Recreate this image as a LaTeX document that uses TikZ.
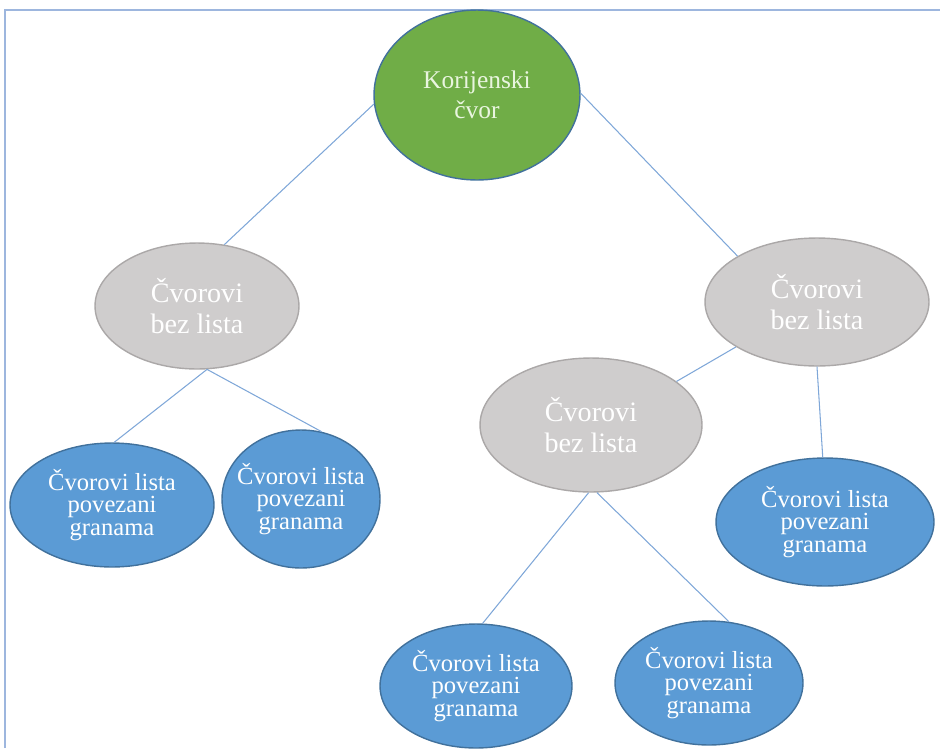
\documentclass[tikz,border=0pt]{standalone}
\usepackage{fontspec}
\setmainfont{Liberation Serif}
\usetikzlibrary{shapes.geometric}

\definecolor{korijenZelena}{HTML}{70AD47}
\definecolor{korijenTekst}{HTML}{E9F5DF}
\definecolor{sivaIspuna}{HTML}{CFCDCD}
\definecolor{sivaRub}{HTML}{ABA8A8}
\definecolor{listPlava}{HTML}{5B9BD5}
\definecolor{tamnoPlava}{HTML}{41719C}
\definecolor{granaPlava}{HTML}{7FA7D8}
\definecolor{okvir}{HTML}{9DB6DE}

\begin{document}
\begin{tikzpicture}[x=0.02cm,y=-0.02cm,
    cvor/.style={ellipse,draw=tamnoPlava,line width=0.8pt,inner sep=0pt,align=center},
    korijen/.style={cvor,fill=korijenZelena,text=korijenTekst,font=\fontsize{14.5}{17}\selectfont},
    unutarnji/.style={cvor,fill=sivaIspuna,draw=sivaRub,text=white,font=\fontsize{16}{18}\selectfont},
    list/.style={cvor,fill=listPlava,text=white,font=\fontsize{14}{13}\selectfont},
    grana/.style={draw=granaPlava,line width=0.6pt}]
  \useasboundingbox (0,0) rectangle (940,748);
  % okvir stranice
  \draw[okvir,line width=1pt] (5,748) -- (5,10) -- (940,10);

  % cvorovi
  \node[korijen,minimum width=4.12cm,minimum height=3.4cm] (root) at (477,95) {Korijenski\\čvor};
  \node[unutarnji,minimum width=4.08cm,minimum height=2.52cm] (bezL) at (197,306) {Čvorovi\\bez lista};
  \node[unutarnji,minimum width=4.48cm,minimum height=2.56cm] (bezD) at (817,302) {Čvorovi\\bez lista};
  \node[unutarnji,minimum width=4.44cm,minimum height=2.68cm] (bezS) at (591,425) {Čvorovi\\bez lista};
  \node[list,minimum width=4.08cm,minimum height=2.48cm] (list1) at (112,505) {Čvorovi lista\\povezani\\granama};
  \node[list,minimum width=3.16cm,minimum height=2.76cm,inner xsep=-9pt] (list2) at (301,499) {Čvorovi lista\\povezani\\granama};
  \node[list,minimum width=4.36cm,minimum height=2.56cm] (list3) at (825,522) {Čvorovi lista\\povezani\\granama};
  \node[list,minimum width=3.84cm,minimum height=2.48cm] (list4) at (476,686) {Čvorovi lista\\povezani\\granama};
  \node[list,minimum width=3.76cm,minimum height=2.48cm] (list5) at (709,683) {Čvorovi lista\\povezani\\granama};

  % grane
  \draw[grana] (root.185) -- (bezL.66);
  \draw[grana] (root.1) -- (bezD.150);
  \draw[grana] (bezL.279) -- (list1.88);
  \draw[grana] (bezL.279) -- (list2.73);
  \draw[grana] (bezD.209) -- (bezS.27);
  \draw[grana] (bezD.270) -- (list3.92);
  \draw[grana] (bezS.268) -- (list4.84);
  \draw[grana] (bezS.275) -- (list5.72);
\end{tikzpicture}
\end{document}
